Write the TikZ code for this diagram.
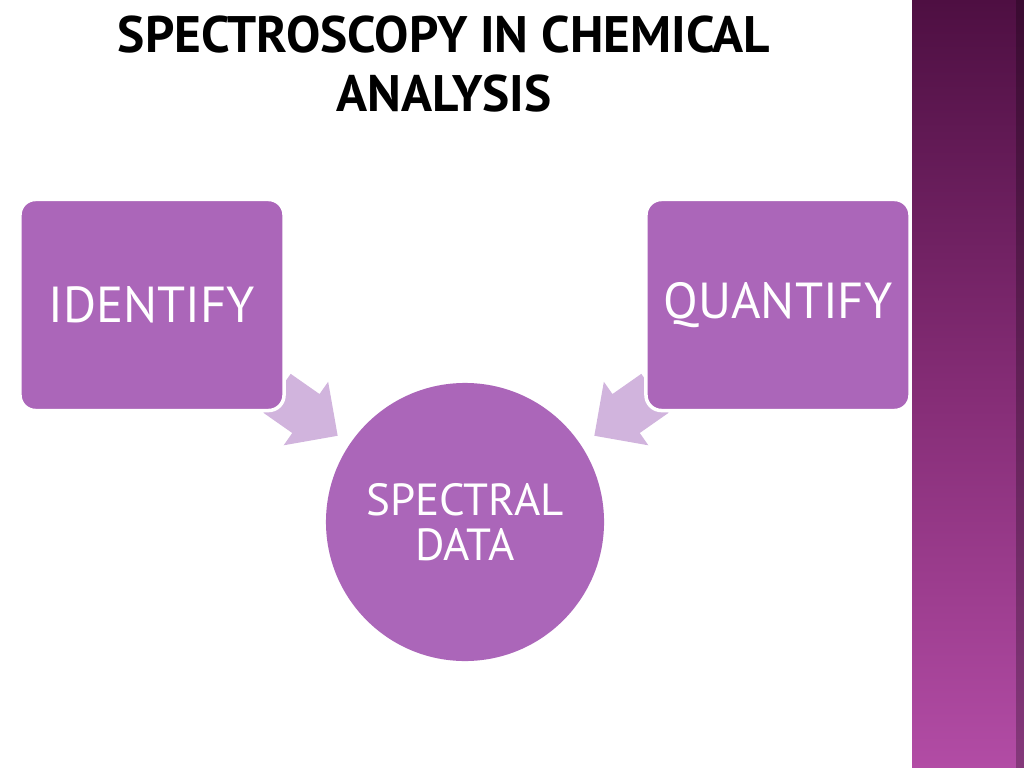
\documentclass[tikz,border=0pt]{standalone}
\usepackage{fontspec}
\setmainfont{PT Sans}
\usetikzlibrary{shapes.arrows}
\definecolor{boxpurple}{HTML}{AB66B9}
\definecolor{arrowlilac}{HTML}{D1B4DD}
\definecolor{bartop}{HTML}{4E0F42}
\definecolor{barmid}{HTML}{842C75}
\definecolor{barbot}{HTML}{B24CA5}
\tikzset{
  stagebox/.style={draw=white,line width=2.5pt,fill=boxpurple,rounded corners=11pt,
    minimum width=6.6cm,minimum height=5.275cm,text=white,
    font=\fontsize{36}{42}\selectfont},
  feedarrow/.style={single arrow,fill=arrowlilac,inner xsep=0pt,inner ysep=0.5875cm,
    single arrow head extend=0.375cm,minimum height=1.85cm,anchor=tip}
}
\begin{document}
\begin{tikzpicture}[x=0.025cm,y=-0.025cm]
\useasboundingbox (0,0) rectangle (1024,768);
% side bar
\shade[top color=bartop,bottom color=barbot,middle color=barmid] (912,0) rectangle (1024,768);
\fill[black,opacity=.25] (1016,0) rectangle (1024,768);
% title
\node[align=center,font=\bfseries\fontsize{36.5}{42}\selectfont] (title) at (444,64)
  {SPECTROSCOPY IN CHEMICAL\\ANALYSIS};
% arrows
\node[feedarrow,rotate=-35] (la) at (338,436) {};
\node[feedarrow,rotate=-145] (ra) at (594,436) {};
% boxes
\node[stagebox] (identify) at (152,305) {IDENTIFY};
\node[stagebox] (quantify) at (778,305) {QUANTIFY};
\node[circle,fill=boxpurple,minimum size=6.95cm,text=white,align=center,
  font=\fontsize{32}{32}\selectfont] (data) at (465,522) {SPECTRAL\\DATA};
\end{tikzpicture}
\end{document}
